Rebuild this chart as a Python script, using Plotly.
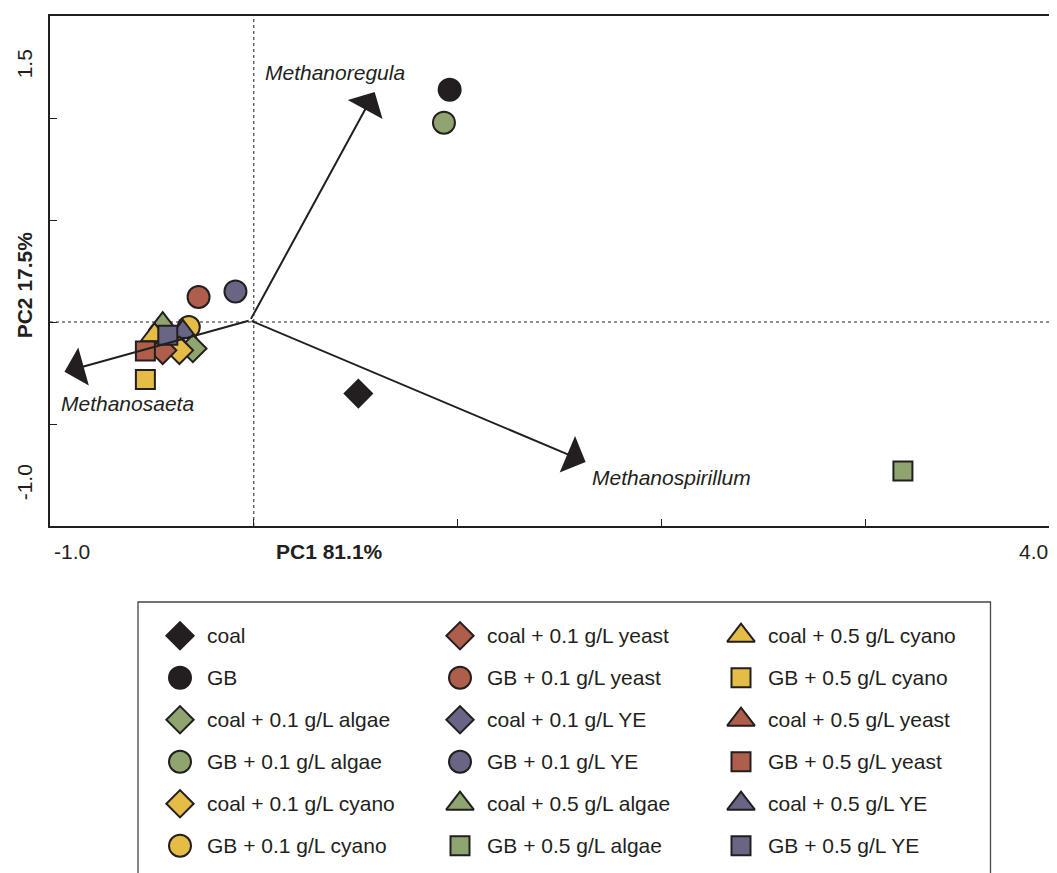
import plotly.graph_objects as go

# ---------------- data ----------------
names = ["coal", "GB",
         "coal + 0.1 g/L algae", "GB + 0.1 g/L algae",
         "coal + 0.1 g/L cyano", "GB + 0.1 g/L cyano",
         "coal + 0.1 g/L yeast", "GB + 0.1 g/L yeast",
         "coal + 0.1 g/L YE", "GB + 0.1 g/L YE",
         "coal + 0.5 g/L algae", "GB + 0.5 g/L algae",
         "coal + 0.5 g/L cyano", "GB + 0.5 g/L cyano",
         "coal + 0.5 g/L yeast", "GB + 0.5 g/L yeast",
         "coal + 0.5 g/L YE", "GB + 0.5 g/L YE"]
pc1 = [0.513, 0.961, -0.299, 0.933, -0.365, -0.319, -0.447, -0.271, -0.40, -0.090,
       -0.447, 3.185, -0.487, -0.532, -0.45, -0.532, -0.348, -0.422]
pc2 = [-0.351, 1.139, -0.130, 0.977, -0.139, -0.025, -0.139, 0.1225, -0.10, 0.150,
       -0.010, -0.730, -0.065, -0.282, -0.08, -0.142, -0.049, -0.065]

BLACK = "#231F20"
RED = "#AE5E4B"
GREEN = "#8FA46E"
YELLOW = "#E5BD46"
PURPLE = "#686585"

symbols = ["diamond", "circle", "diamond", "circle", "diamond", "circle",
           "diamond", "circle", "diamond", "circle",
           "triangle-up", "square", "triangle-up", "square",
           "triangle-up", "square", "triangle-up", "square"]
colors = [BLACK, BLACK, GREEN, GREEN, YELLOW, YELLOW, RED, RED, PURPLE, PURPLE,
          GREEN, GREEN, YELLOW, YELLOW, RED, RED, PURPLE, PURPLE]

# drawing order (bottom -> top)
draw_order = [8, 14, 10, 12, 5, 16, 2, 4, 6, 15, 17, 0, 1, 3, 7, 9, 11, 13]

# species loading vectors
species = ["Methanoregula", "Methanosaeta", "Methanospirillum"]
vec_origin = (-0.018, 0.008)
vec_x = [0.593, -0.929, 1.628]
vec_y = [1.127, -0.244, -0.686]
label_x = [0.043, -0.954, 1.648]
label_y = [1.224, -0.399, -0.761]

x_ticks = [-1, 0, 1, 2, 3]
y_ticks = [-1, -0.5, 0, 0.5, 1, 1.5]

FONT = "Liberation Sans, Arial, sans-serif"
FS = 21

sizes = {"diamond": 21, "circle": 22, "square": 19, "triangle-up": 24}

# page offset compensation (page body margin of 8 px)
OFF = 8
W, H = 1057, 873

fig = go.Figure()

for i in draw_order:
    fig.add_trace(go.Scatter(
        x=[pc1[i]], y=[pc2[i]], mode="markers", name=names[i],
        marker=dict(symbol=symbols[i], color=colors[i], size=sizes[symbols[i]],
                    opacity=1, line=dict(color=BLACK, width=2)),
        showlegend=False, xaxis="x", yaxis="y", cliponaxis=False))

# ---------------- legend (manual, 3 columns x 6 rows) ----------------
col_x = [180, 460, 741]
row_y0, row_dy = 635.7, 42
leg_x = [col_x[i // 6] for i in range(len(names))]
leg_y = [row_y0 + row_dy * (i % 6) for i in range(len(names))]
fig.add_trace(go.Scatter(
    x=leg_x, y=leg_y, mode="markers",
    marker=dict(symbol=symbols, color=colors, opacity=1,
                size=[sizes[s] for s in symbols],
                line=dict(color=BLACK, width=2)),
    showlegend=False, xaxis="x2", yaxis="y2", hoverinfo="skip"))

annotations = []
for i, nm in enumerate(names):
    annotations.append(dict(x=leg_x[i] + 25, y=leg_y[i], xref="x2", yref="y2",
                            text=nm, showarrow=False, xanchor="left", yanchor="middle",
                            font=dict(family=FONT, size=FS, color=BLACK)))

# vectors
for k, sp in enumerate(species):
    annotations.append(dict(x=vec_x[k], y=vec_y[k], ax=vec_origin[0], ay=vec_origin[1],
                            xref="x", yref="y", axref="x", ayref="y", text="",
                            showarrow=True, arrowhead=1, arrowsize=3.3, arrowwidth=2,
                            arrowcolor=BLACK))
    annotations.append(dict(x=label_x[k], y=label_y[k], xref="x", yref="y",
                            text="<i>" + sp + "</i>", showarrow=False,
                            xanchor="left", yanchor="middle",
                            font=dict(family=FONT, size=FS, color=BLACK)))

# plot area (figure coords): x 42..1049 (page 50..1057), y from 8 to 873 (page 16..881)
plot_h = H - OFF
main_bottom = (H - (526 - OFF)) / plot_h
leg_top = (H - (590 - OFF)) / plot_h
xlab_y = (H - (551 - OFF)) / plot_h

# axis tick labels & titles
annotations += [
    dict(x=-0.893, y=xlab_y, xref="x", yref="paper", text="-1.0", showarrow=False,
         xanchor="center", yanchor="middle", font=dict(family=FONT, size=FS, color=BLACK)),
    dict(x=3.905, y=xlab_y, xref="x", yref="paper", text="4.0", showarrow=False,
         xanchor="right", yanchor="middle", font=dict(family=FONT, size=FS, color=BLACK)),
    dict(x=0.373, y=xlab_y, xref="x", yref="paper", text="<b>PC1 81.1%</b>", showarrow=False,
         xanchor="center", yanchor="middle", font=dict(family=FONT, size=FS, color=BLACK)),
    dict(x=-0.0258, y=1.263, xref="paper", yref="y", text="1.5", showarrow=False,
         xanchor="center", yanchor="middle",
         textangle=-90, font=dict(family=FONT, size=FS, color=BLACK)),
    dict(x=-0.0258, y=-0.786, xref="paper", yref="y", text="-1.0", showarrow=False,
         xanchor="center", yanchor="middle",
         textangle=-90, font=dict(family=FONT, size=FS, color=BLACK)),
    dict(x=-0.0258, y=0.18, xref="paper", yref="y", text="<b>PC2 17.5%</b>", showarrow=False,
         xanchor="center", yanchor="middle",
         textangle=-90, font=dict(family=FONT, size=FS, color=BLACK)),
]

shapes = [
    dict(type="line", xref="x", yref="y", x0=0, x1=0, y0=-1, y1=1.5,
         line=dict(color=BLACK, width=1, dash="dot"), layer="below"),
    dict(type="line", xref="x", yref="y", x0=-1, x1=3.941, y0=0, y1=0,
         line=dict(color=BLACK, width=1, dash="dot"), layer="below"),
    dict(type="path", xref="x2", yref="y2",
         path="M 138 900 L 138 602 L 990.5 602 L 990.5 900",
         line=dict(color="#444444", width=1.3)),
]

fig.update_layout(
    width=W, height=H,
    margin=dict(l=50 - OFF, r=OFF, t=16 - OFF, b=0),
    paper_bgcolor="white", plot_bgcolor="white",
    showlegend=False,
    xaxis=dict(domain=[0, 1], range=[-1, 3.941], tickvals=x_ticks, showticklabels=False,
               ticks="inside", ticklen=7, tickwidth=1, tickcolor=BLACK,
               showline=True, linewidth=2, linecolor=BLACK, mirror=True,
               showgrid=False, zeroline=False, anchor="y"),
    yaxis=dict(domain=[main_bottom, 1], range=[-1, 1.5], tickvals=y_ticks, showticklabels=False,
               ticks="inside", ticklen=7, tickwidth=1, tickcolor=BLACK,
               showline=True, linewidth=2, linecolor=BLACK,
               showgrid=False, zeroline=False, anchor="x"),
    xaxis2=dict(domain=[0, 1], range=[50, 1057], visible=False, anchor="y2", fixedrange=True),
    yaxis2=dict(domain=[0, leg_top], range=[H + OFF, 590], visible=False, anchor="x2",
                fixedrange=True),
    annotations=annotations,
    shapes=shapes,
    font=dict(family=FONT, size=FS, color=BLACK),
)

fig.write_html("out.html")
